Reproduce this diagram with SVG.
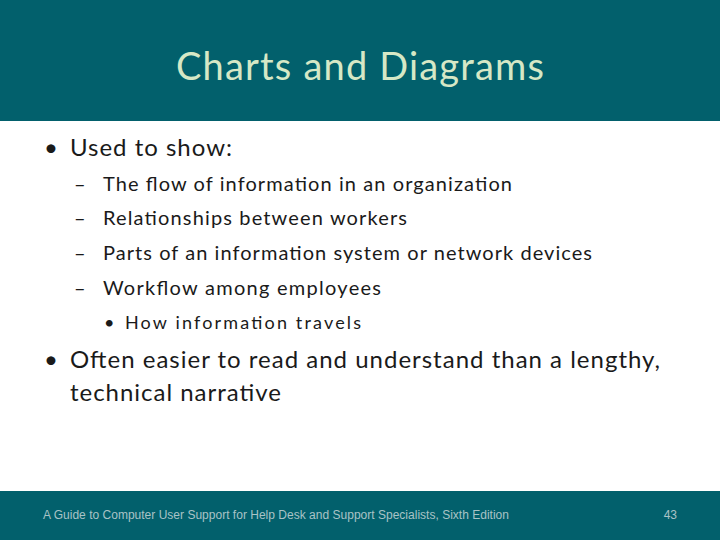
<svg xmlns="http://www.w3.org/2000/svg" width="720" height="540" viewBox="0 0 720 540">
<style>
.t{font-family:Lato,"Open Sans",sans-serif;fill:#1a1a1a}
.b1{font-size:24px}
.b2{font-size:20px}
.b3{font-size:18px}
</style>
<rect width="720" height="540" fill="#fff"/>
<rect width="720" height="121" fill="#02606C"/>
<text x="360" y="80" text-anchor="middle" font-family="Lato,'Open Sans',sans-serif" font-size="38" fill="#D6E8C6" textLength="368">Charts and Diagrams</text>
<g id="body">
<text class="t b1" x="44" y="156">•</text>
<text class="t b1" x="70" y="156" textLength="162">Used to show:</text>
<text class="t b2" x="74" y="191">–</text>
<text class="t b2" x="103" y="191" textLength="409">The flow of information in an organization</text>
<text class="t b2" x="74" y="225">–</text>
<text class="t b2" x="103" y="225" textLength="304">Relationships between workers</text>
<text class="t b2" x="74" y="260">–</text>
<text class="t b2" x="103" y="260" textLength="489">Parts of an information system or network devices</text>
<text class="t b2" x="74" y="295">–</text>
<text class="t b2" x="103" y="295" textLength="278">Workflow among employees</text>
<text class="t b3" x="104" y="329">•</text>
<text class="t b3" x="125" y="329" textLength="236">How information travels</text>
<text class="t b1" x="44" y="368">•</text>
<text class="t b1" x="70" y="368" textLength="590">Often easier to read and understand than a lengthy,</text>
<text class="t b1" x="70" y="401" textLength="211">technical narrative</text>
</g>
<rect y="491" width="720" height="49" fill="#02606C"/>
<text x="43" y="519" font-family="'Liberation Sans',sans-serif" font-size="12" fill="#A9C3C6" textLength="466">A Guide to Computer User Support for Help Desk and Support Specialists, Sixth Edition</text>
<text x="677" y="519" text-anchor="end" font-family="'Liberation Sans',sans-serif" font-size="12" fill="#A9C3C6">43</text>
</svg>
